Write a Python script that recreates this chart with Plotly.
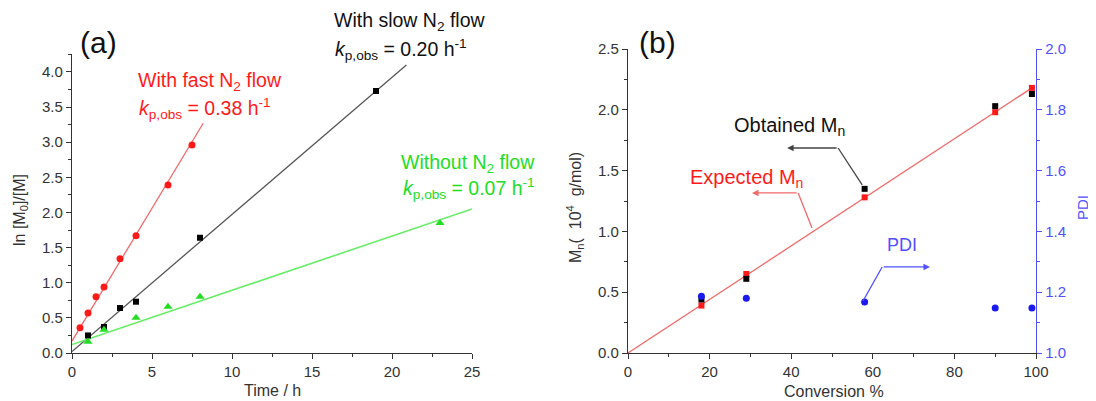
import plotly.graph_objects as go

W, H = 1096, 401
OFF = 8  # page body margin offset

# ---- Panel (a) data ----
fast_t = [0.5, 1, 1.5, 2, 3, 4, 6, 7.5]
fast_y = [0.36, 0.57, 0.80, 0.94, 1.34, 1.67, 2.39, 2.96]
fast_fit_t = [0, 8.2]
fast_fit_y = [0.17, 3.27]

slow_t = [1, 2, 3, 4, 8, 19]
slow_y = [0.25, 0.37, 0.64, 0.73, 1.64, 3.73]
slow_fit_t = [0, 20.9]
slow_fit_y = [0.02, 4.10]

none_t = [1, 2, 4, 6, 8, 23]
none_y = [0.16, 0.33, 0.50, 0.66, 0.80, 1.85]
none_fit_t = [0, 25]
none_fit_y = [0.12, 2.05]

# ---- Panel (b) data ----
conv = [18, 29, 58, 90, 99]
mn_obtained = [0.44, 0.61, 1.35, 2.03, 2.13]
mn_expected = [0.39, 0.65, 1.28, 1.98, 2.18]
pdi = [1.187, 1.18, 1.168, 1.148, 1.148]
exp_line_x = [0, 99]
exp_line_y = [0, 2.18]

FONT = "Arial, Liberation Sans, sans-serif"
AX = "#333333"
RED = "#ff1a1a"
RED_L = "#f06a6a"
GREEN = "#22dd22"
GREEN_L = "#66ee66"
BLUE = "#1a1aee"
BLUE_AX = "#5050ff"

FW, FH = W - OFF, H - OFF


def px(x):
    return (x - OFF) / FW


def py(y):
    return (H - y) / FH


fig = go.Figure()

# Panel (a)
fig.add_trace(go.Scatter(x=fast_fit_t, y=fast_fit_y, mode="lines", line=dict(color=RED_L, width=1.3), xaxis="x", yaxis="y"))
fig.add_trace(go.Scatter(x=slow_fit_t, y=slow_fit_y, mode="lines", line=dict(color="#555555", width=1.3), xaxis="x", yaxis="y"))
fig.add_trace(go.Scatter(x=none_fit_t, y=none_fit_y, mode="lines", line=dict(color=GREEN_L, width=1.6), xaxis="x", yaxis="y"))
fig.add_trace(go.Scatter(x=fast_t, y=fast_y, mode="markers", marker=dict(symbol="circle", size=7, color=RED), xaxis="x", yaxis="y"))
fig.add_trace(go.Scatter(x=slow_t, y=slow_y, mode="markers", marker=dict(symbol="square", size=6, color="#000000"), xaxis="x", yaxis="y"))
fig.add_trace(go.Scatter(x=none_t, y=none_y, mode="markers", marker=dict(symbol="triangle-up", size=8, color=GREEN), xaxis="x", yaxis="y"))

# Panel (b)
fig.add_trace(go.Scatter(x=exp_line_x, y=exp_line_y, mode="lines", line=dict(color=RED_L, width=1.3), xaxis="x2", yaxis="y2"))
fig.add_trace(go.Scatter(x=conv, y=mn_expected, mode="markers", marker=dict(symbol="square", size=6, color=RED), xaxis="x2", yaxis="y2"))
fig.add_trace(go.Scatter(x=conv, y=mn_obtained, mode="markers", marker=dict(symbol="square", size=6, color="#000000"), xaxis="x2", yaxis="y2"))
fig.add_trace(go.Scatter(x=conv, y=pdi, mode="markers", marker=dict(symbol="circle", size=7, color=BLUE), xaxis="x2", yaxis="y3"))


def axis_common(color=AX):
    return dict(showline=True, linecolor=color, linewidth=1.3, ticks="outside", ticklen=5,
                tickwidth=1.2, tickcolor=color, showgrid=False, zeroline=False, automargin=False,
                tickfont=dict(family=FONT, size=15, color=color))


fig.update_layout(
    width=FW, height=FH, margin=dict(l=0, r=0, t=0, b=0, autoexpand=False),
    paper_bgcolor="white", plot_bgcolor="white", showlegend=False,
    xaxis=dict(domain=[px(72), px(472)], range=[0, 25], dtick=5, anchor="y",
               minor=dict(dtick=2.5, ticks="outside", ticklen=3, tickcolor=AX), **axis_common()),
    yaxis=dict(domain=[py(353), py(54.4)], range=[0, 4.25], dtick=0.5, tickformat=".1f", anchor="x",
               minor=dict(dtick=0.25, ticks="outside", ticklen=3, tickcolor=AX), **axis_common()),
    xaxis2=dict(domain=[px(628), px(1036)], range=[0, 100], dtick=20, anchor="y2",
                minor=dict(dtick=10, ticks="outside", ticklen=3, tickcolor=AX), **axis_common()),
    yaxis2=dict(domain=[py(353), py(49)], range=[0, 2.5], dtick=0.5, tickformat=".1f", anchor="x2",
                minor=dict(dtick=0.25, ticks="outside", ticklen=3, tickcolor=AX), **axis_common()),
    yaxis3=dict(domain=[py(353), py(49)], range=[1, 2], dtick=0.2, tickformat=".1f", anchor="x2",
                overlaying="y2", side="right",
                minor=dict(dtick=0.1, ticks="outside", ticklen=3, tickcolor=BLUE_AX), **axis_common(BLUE_AX)),
)

ann = []


def txt(x, y, text, color="#000000", size=19.5, angle=0):
    ann.append(dict(x=px(x), y=py(y), xref="paper", yref="paper", text=text, showarrow=False,
                    xanchor="center", yanchor="middle", textangle=angle,
                    font=dict(family=FONT, size=size, color=color)))


txt(98, 43, "(a)", "#111111", 30)
txt(657, 43, "(b)", "#111111", 30)
txt(210, 81, "With fast N<sub>2</sub> flow", RED)
txt(205, 108, "<i>k</i><sub>p,obs</sub> = 0.38 h<sup>-1</sup>", RED)
txt(410, 22, "With slow N<sub>2</sub> flow", "#111111")
txt(401, 50, "<i>k</i><sub>p,obs</sub> = 0.20 h<sup>-1</sup>", "#111111")
txt(468, 163, "Without N<sub>2</sub> flow", GREEN)
txt(469, 188, "<i>k</i><sub>p,obs</sub> = 0.07 h<sup>-1</sup>", GREEN)
txt(789, 126, "Obtained M<sub>n</sub>", "#111111", 20)
txt(746, 179, "Expected M<sub>n</sub>", RED, 20)
txt(902, 245, "PDI", BLUE_AX, 18)

# axis titles
txt(272, 390, "Time / h", AX, 16)
txt(834, 391, "Conversion %", AX, 16)
txt(20, 210, "ln [M<sub>0</sub>]/[M]", AX, 16, -90)
txt(575, 208, "M<sub>n</sub>(  10<sup>4</sup>  g/mol)", AX, 16, -90)
txt(1082, 208, "PDI", BLUE_AX, 15, -90)


# arrows (horizontal segments with arrowheads)
def arrow(x0, y0, x1, y1, color, yref):
    ann.append(dict(x=x1, y=y1, ax=x0, ay=y0, xref="x2", yref=yref, axref="x2", ayref=yref,
                    showarrow=True, arrowhead=2, arrowsize=1, arrowwidth=1.3, arrowcolor=color, text=""))


arrow(51.5, 1.686, 39.0, 1.686, "#444444", "y2")
arrow(41.7, 1.316, 30.4, 1.316, RED_L, "y2")
arrow(62.3, 1.283, 74.0, 1.283, BLUE_AX, "y3")
fig.update_layout(annotations=ann)

shapes = [
    dict(type="line", xref="x2", yref="y2", x0=51.5, y0=1.686, x1=57.4, y1=1.382, line=dict(color="#444444", width=1.3)),
    dict(type="line", xref="x2", yref="y2", x0=41.7, y0=1.316, x1=45.1, y1=1.028, line=dict(color=RED_L, width=1.3)),
    dict(type="line", xref="x2", yref="y3", x0=62.3, y0=1.283, x1=57.6, y1=1.171, line=dict(color=BLUE_AX, width=1.3)),
]
fig.update_layout(shapes=shapes)

fig.write_html("out.html")
